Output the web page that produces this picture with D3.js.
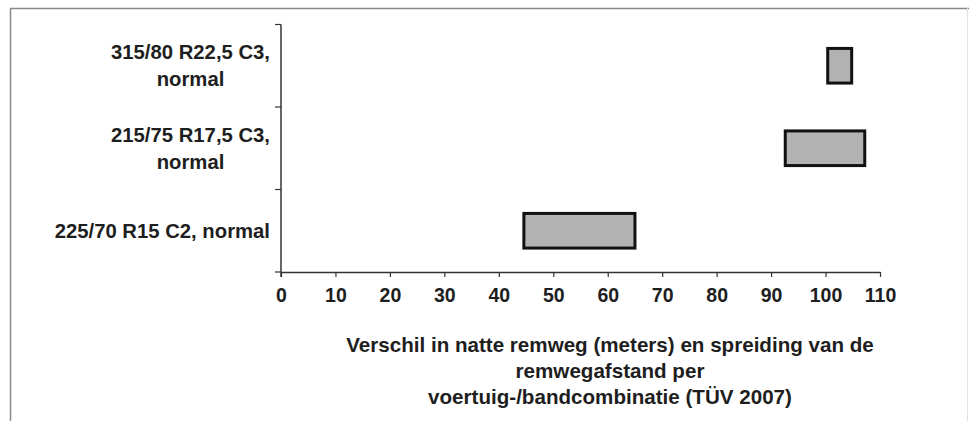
<!DOCTYPE html>
<html>
<head>
<meta charset="utf-8">
<script src="https://cdn.jsdelivr.net/npm/d3@7"></script>
<style>
  body { margin: 0; background: #fff; }
  svg text { font-family: "Liberation Sans", Arial, sans-serif; font-weight: bold; fill: #1e1e1e; }
</style>
</head>
<body>
<svg id="chart" width="969" height="421"></svg>
<script>
// categories top to bottom, each label split in lines
const categories = ['315/80 R22,5 C3, normal', '215/75 R17,5 C3, normal', '225/70 R15 C2, normal'];
const labelLines = [['315/80 R22,5 C3,', 'normal'], ['215/75 R17,5 C3,', 'normal'], ['225/70 R15 C2, normal']];
// range of wet braking distance difference (m)
const lowValues = [100.4, 92.6, 44.6];
const highValues = [104.8, 107.2, 65];
const xTicks = [0, 10, 20, 30, 40, 50, 60, 70, 80, 90, 100, 110];
const titleLines = ['Verschil in natte remweg (meters) en spreiding van de', 'remwegafstand per', 'voertuig-/bandcombinatie (TÜV 2007)'];

const svg = d3.select('#chart');

// scanned frame (left, top, faint right)
svg.append('line').attr('x1', 10.5).attr('y1', 8.5).attr('x2', 10.5).attr('y2', 421)
  .attr('stroke', '#8a8a8a').attr('stroke-width', 1.5);
svg.append('line').attr('x1', 10).attr('y1', 8.5).attr('x2', 969).attr('y2', 8.5)
  .attr('stroke', '#8a8a8a').attr('stroke-width', 1.5);
svg.append('line').attr('x1', 967.5).attr('y1', 8).attr('x2', 967.5).attr('y2', 421)
  .attr('stroke', '#e2e2e2').attr('stroke-width', 1);

const x = d3.scaleLinear().domain([0, 110]).range([281, 880]);
const y = d3.scaleBand().domain(categories).range([24.5, 272]).padding(0);
const barH = y.bandwidth() * 0.42;

// bars
svg.append('g')
  .selectAll('rect')
  .data(categories)
  .join('rect')
  .attr('x', (d, i) => x(lowValues[i]))
  .attr('width', (d, i) => x(highValues[i]) - x(lowValues[i]))
  .attr('y', d => y(d) + (y.bandwidth() - barH) / 2)
  .attr('height', barH)
  .attr('fill', '#b2b2b2')
  .attr('stroke', '#111')
  .attr('stroke-width', 3);

// x axis
const xAxis = svg.append('g')
  .attr('transform', 'translate(0,272)')
  .call(d3.axisBottom(x).tickValues(xTicks).tickSize(5).tickSizeOuter(0).tickPadding(11));
xAxis.select('.domain').attr('stroke', '#333').attr('stroke-width', 1.5);
xAxis.selectAll('.tick line').attr('stroke', '#333').attr('stroke-width', 1.2);
xAxis.selectAll('text').attr('font-size', 19.5).attr('fill', '#1e1e1e')
  .style('font-family', '"Liberation Sans", Arial, sans-serif').style('font-weight', 'bold');

// y axis: line with ticks between categories
const yAxis = svg.append('g');
const bounds = categories.map(c => y(c)).concat([y.range()[1]]);
yAxis.append('line').attr('x1', 281).attr('x2', 281)
  .attr('y1', bounds[0]).attr('y2', 277)
  .attr('stroke', '#333').attr('stroke-width', 1.5);
yAxis.selectAll('.ytick')
  .data(bounds)
  .join('line')
  .attr('class', 'ytick')
  .attr('x1', 275).attr('x2', 281)
  .attr('y1', d => d).attr('y2', d => d)
  .attr('stroke', '#333').attr('stroke-width', 1.2);

// category labels, lines centred within a block that ends at x=270
const lineGap = 27;
svg.append('g')
  .selectAll('text')
  .data(categories)
  .join('text')
  .attr('text-anchor', 'middle')
  .attr('font-size', 20.3)
  .each(function (d, i) {
    const lines = labelLines[i];
    const cy = y(d) + y.bandwidth() / 2;
    const first = cy - (lines.length - 1) * lineGap / 2 + 7;
    const t = d3.select(this);
    const spans = t.selectAll('tspan')
      .data(lines)
      .join('tspan')
      .attr('y', (s, j) => first + j * lineGap)
      .text(s => s);
    const w = d3.max(spans.nodes(), n => n.getComputedTextLength());
    spans.attr('x', 270 - w / 2);
  });

// axis title
svg.append('text')
  .attr('text-anchor', 'middle')
  .attr('font-size', 20.6)
  .selectAll('tspan')
  .data(titleLines)
  .join('tspan')
  .attr('x', 610)
  .attr('y', (d, i) => 352 + i * 26)
  .text(d => d);
</script>
</body>
</html>
